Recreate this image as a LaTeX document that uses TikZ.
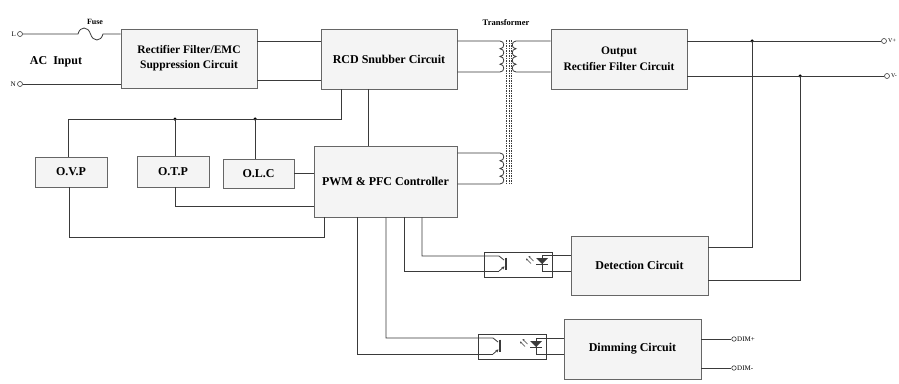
\documentclass[tikz,border=0pt]{standalone}
\usepackage{fontspec}
\setmainfont{Liberation Serif}
\usetikzlibrary{arrows.meta,calc}
\definecolor{boxf}{HTML}{F4F4F4}
\definecolor{boxc}{HTML}{666666}
\definecolor{wirec}{HTML}{3A3A3A}
\begin{document}
\begin{tikzpicture}[x=1pt,y=-1pt,
  box/.style={draw=boxc, fill=boxf, line width=0.9pt, inner sep=0pt, font=\bfseries\fontsize{12}{15}\selectfont, align=center},
  wire/.style={draw=wirec, line width=0.8pt},
  term/.style={circle, draw=wirec, fill=white, line width=0.6pt, minimum size=5pt, inner sep=0pt},
  jdot/.style={circle, fill=black, minimum size=3.5pt, inner sep=0pt},
  small/.style={font=\fontsize{7}{8}\selectfont, inner sep=0pt},
  tiny/.style={font=\fontsize{6}{7}\selectfont, inner sep=0pt},
  optobox/.style={draw=wirec, line width=0.7pt, minimum width=68pt, minimum height=25pt, inner sep=0pt},
  light/.style={draw=wirec, line width=0.5pt, -{Stealth[length=2pt,width=2pt]}},
  emit/.style={wire, -{Stealth[length=3pt,width=3pt]}},
  core/.style={draw=wirec, line width=0.5pt, dash pattern=on 1.5pt off 1pt}
]
\fill[white] (0,0) rectangle (899,383);
\useasboundingbox (0,0) rectangle (899,383);

% ---- boxes
\node[box, minimum width=136pt, minimum height=59pt, font=\bfseries\fontsize{11.5}{15}\selectfont] (rect) at (189,58.5) {Rectifier Filter/EMC\\Suppression Circuit};
\node[box, minimum width=136pt, minimum height=60pt] (rcd) at (389,59) {RCD Snubber Circuit};
\node[box, minimum width=136pt, minimum height=60pt, font=\bfseries\fontsize{11.5}{16}\selectfont] (out) at (619,59) {Output\\Rectifier Filter Circuit};
\node[box, minimum width=72pt, minimum height=30pt] (ovp) at (71,172) {O.V.P};
\node[box, minimum width=72pt, minimum height=31pt] (otp) at (173,171.5) {O.T.P};
\node[box, minimum width=71pt, minimum height=29pt] (olc) at (258.5,173.5) {O.L.C};
\node[box, minimum width=143pt, minimum height=71pt] (pwm) at (385.5,181.5) {PWM \& PFC Controller};
\node[box, minimum width=137pt, minimum height=59pt] (det) at (639.5,265.5) {Detection Circuit};
\node[box, minimum width=137pt, minimum height=60pt] (dim) at (632.5,349) {Dimming Circuit};
\node[optobox] (op1) at (518,264.5) {};
\node[optobox] (op2) at (512,346.5) {};

% ---- labels
\node[font=\bfseries\fontsize{8}{9}\selectfont] (fuselbl) at (95,22) {Fuse};
\node[font=\bfseries\fontsize{8.5}{10}\selectfont] (trlbl) at (506,23) {Transformer};
\node[font=\bfseries\fontsize{12}{14}\selectfont] (aclbl) at (56,62) {AC~~Input};

% ---- terminals
\node[term] (tL) at (20,34) {};
\node[term] (tN) at (20,84) {};
\node[small, anchor=east] (lL) at (16,34) {L};
\node[small, anchor=east] (lN) at (16,84) {N};
\node[term] (tVp) at (884,41) {};
\node[term] (tVm) at (887,76) {};
\node[tiny, anchor=west] (lVp) at (888,41) {V+};
\node[tiny, anchor=west] (lVm) at (891,76) {V-};
\node[term, minimum size=4.5pt] (tD1) at (734,339) {};
\node[term, minimum size=4.5pt] (tD2) at (734,368) {};
\node[small, anchor=west] (lD1) at (737,339) {DIM+};
\node[small, anchor=west] (lD2) at (737,368) {DIM-};

% ---- input
\coordinate (f1) at (78,34);
\coordinate (f2) at (103,34);
\draw[wire] (tL) -- (f1) .. controls (80,26) and (88,26) .. (90.5,34) .. controls (93,42) and (101,42) .. (f2) -- (rect.west |- f2);
\draw[wire] (tN) -- (rect.west |- tN);
\draw[wire] (rect.east |- 0,41) -- (rcd.west |- 0,41);
\draw[wire] (rect.east |- 0,80) -- (rcd.west |- 0,80);

% ---- transformer
\draw[wire] (rcd.east |- 0,41) -- (500,41)
  \foreach \k in {0,1,2,3} { .. controls (505,{41+7.75*\k}) and (505,{41+7.75*(\k+1)}) .. (500,{41+7.75*(\k+1)}) }
  -- (rcd.east |- 0,72);
\draw[wire] (out.west |- 0,41) -- (516,41)
  \foreach \k in {0,1,2,3} { .. controls (511,{41+7.75*\k}) and (511,{41+7.75*(\k+1)}) .. (516,{41+7.75*(\k+1)}) }
  -- (out.west |- 0,72);
\draw[wire] (pwm.east |- 0,153) -- (500,153)
  \foreach \k in {0,1,2,3} { .. controls (505,{153+7.75*\k}) and (505,{153+7.75*(\k+1)}) .. (500,{153+7.75*(\k+1)}) }
  -- (pwm.east |- 0,184);
\foreach \xx in {506.5,508.8,511.1} \draw[core] (\xx,40) -- (\xx,185);

% ---- output
\node[jdot] (j1) at (752,41) {};
\node[jdot] (j2) at (800,76) {};
\draw[wire] (out.east |- tVp) -- (tVp);
\draw[wire] (out.east |- tVm) -- (tVm);
\draw[wire] (j1.center) -- (j1.center |- 0,247) -- (det.east |- 0,247);
\draw[wire] (j2.center) -- (j2.center |- 0,280) -- (det.east |- 0,280);

% ---- protection
\node[jdot] (j3) at (175,119) {};
\node[jdot] (j4) at (255,119) {};
\draw[wire] (rcd.south -| 341,0) -- (341,119) -- (68,119) -- (ovp.north -| 68,0);
\draw[wire] (j3.center) -- (otp.north -| j3);
\draw[wire] (j4.center) -- (olc.north -| j4);
\draw[wire] (rcd.south -| 368,0) -- (pwm.north -| 368,0);
\draw[wire] (olc.east) -- (pwm.west |- olc.east);
\draw[wire] (otp.south -| 175,0) -- (175,206) -- (pwm.west |- 0,206);
\draw[wire] (ovp.south -| 69,0) -- (69,237) -- (324,237) -- (pwm.south -| 324,0);

% ---- opto 1 (detection)
\draw[wire] (pwm.south -| 422,0) -- (422,256) -- (499,256) -- (504,260);
\draw[wire] (pwm.south -| 404,0) -- (404,271) -- (499,271);
\draw[emit] (499,271) -- (504.5,266.5);
\draw[draw=wirec, line width=1.5pt] (505.8,257.5) -- (505.8,269.5);
\draw[wire] (det.west |- 0,255) -- (542,255) -- (542,271) -- (det.west |- 0,271);
\fill[wirec] (536,258) -- (548,258) -- (542,264) -- cycle;
\draw[wire] (536,264) -- (548,264);
\draw[light] (533.5,261) -- (528.5,256);
\draw[light] (531,263.5) -- (526,258.5);

% ---- opto 2 (dimming)
\draw[wire] (pwm.south -| 386,0) -- (386,338) -- (493,338) -- (498,342);
\draw[wire] (pwm.south -| 357,0) -- (357,354) -- (493,354);
\draw[emit] (493,354) -- (498.5,349.5);
\draw[draw=wirec, line width=1.5pt] (499.8,339.5) -- (499.8,351.5);
\draw[wire] (dim.west |- 0,338) -- (536,338) -- (536,354) -- (dim.west |- 0,354);
\fill[wirec] (530,341) -- (542,341) -- (536,347) -- cycle;
\draw[wire] (530,347) -- (542,347);
\draw[light] (527.5,344) -- (522.5,339);
\draw[light] (525,346.5) -- (520,341.5);

\draw[wire] (dim.east |- tD1) -- (tD1);
\draw[wire] (dim.east |- tD2) -- (tD2);
\end{tikzpicture}
\end{document}
